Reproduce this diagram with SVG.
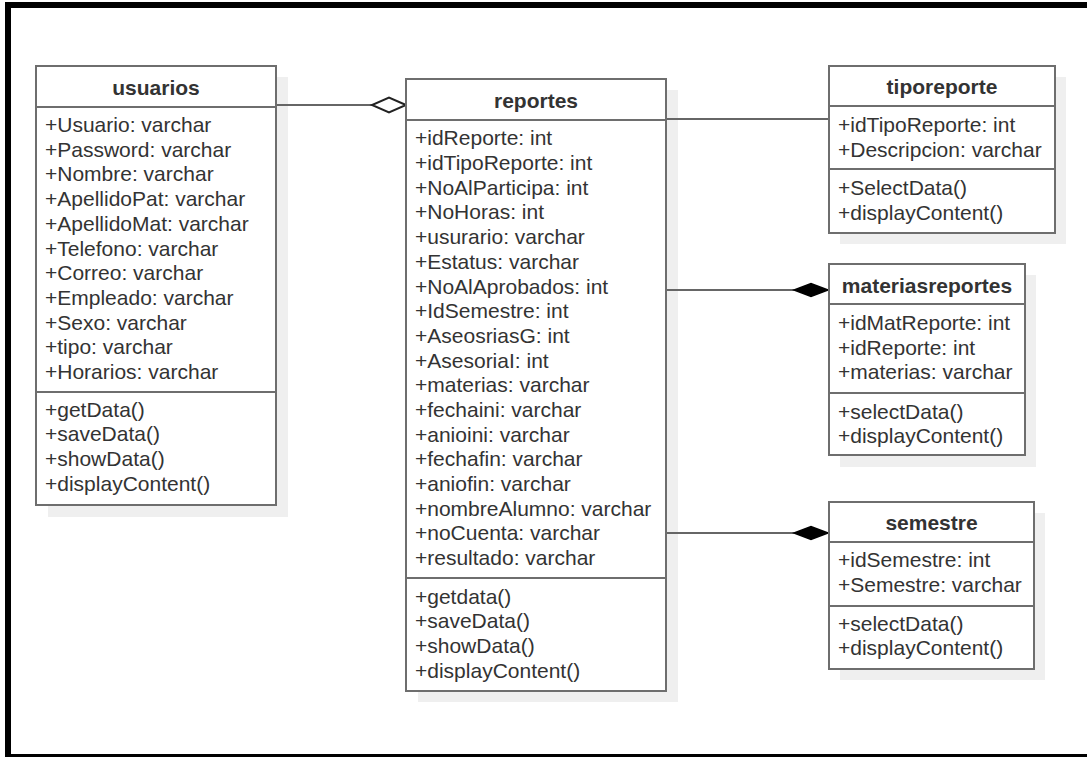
<svg xmlns="http://www.w3.org/2000/svg" width="1087" height="757" viewBox="0 0 1087 757">
  <defs>
    <style>
      .shadow { fill: #efefef; stroke: none; }
      .box { fill: #ffffff; stroke: #6e6e6e; stroke-width: 2; }
      .sep { stroke: #6e6e6e; stroke-width: 2; }
      .title { font-family: "Liberation Sans", Arial, sans-serif; font-size: 21px; font-weight: bold; fill: #333333; text-anchor: middle; }
      .item { font-family: "Liberation Sans", Arial, sans-serif; font-size: 21px; fill: #333333; }
      .edge { fill: none; stroke: #666666; stroke-width: 2; }
      .hollow { fill: #ffffff; stroke: #222222; stroke-width: 2; }
      .solid { fill: #000000; stroke: #000000; stroke-width: 1.5; }
    </style>
  </defs>

  <rect x="0" y="0" width="1087" height="757" fill="#ffffff"/>

  <!-- outer frame -->
  <g id="frame" fill="#000000">
    <rect x="5" y="2" width="1082" height="6"/>
    <rect x="5" y="2" width="6" height="755"/>
    <rect x="5" y="754" width="1082" height="3"/>
  </g>

  <!-- shadows -->
  <g id="shadows">
    <rect class="shadow" x="48" y="77" width="240" height="440"/>
    <rect class="shadow" x="418" y="90" width="260" height="612"/>
    <rect class="shadow" x="840" y="77" width="226" height="167"/>
    <rect class="shadow" x="840" y="275" width="196" height="192"/>
    <rect class="shadow" x="840" y="513" width="205" height="167"/>
  </g>

  <!-- connectors -->
  <g id="connectors">
    <line class="edge" x1="276" y1="105" x2="372" y2="105"/>
    <polygon class="hollow" points="406,105 389,97.5 372,105 389,112.5"/>
    <line class="edge" x1="666" y1="119" x2="829" y2="119"/>
    <line class="edge" x1="666" y1="290" x2="794" y2="290"/>
    <polygon class="solid" points="828,290 811,283.5 794,290 811,296.5"/>
    <line class="edge" x1="666" y1="533" x2="794" y2="533"/>
    <polygon class="solid" points="828,533 811,526.5 794,533 811,539.5"/>
  </g>

  <!-- usuarios -->
  <g id="usuarios">
    <rect class="box" x="36" y="66" width="240" height="439"/>
    <line class="sep" x1="36" y1="107" x2="276" y2="107"/>
    <line class="sep" x1="36" y1="392" x2="276" y2="392"/>
    <text class="title" x="156" y="94.5">usuarios</text>
    <text class="item" x="45">
      <tspan x="45" y="132">+Usuario: varchar</tspan>
      <tspan x="45" y="156.7">+Password: varchar</tspan>
      <tspan x="45" y="181.4">+Nombre: varchar</tspan>
      <tspan x="45" y="206.1">+ApellidoPat: varchar</tspan>
      <tspan x="45" y="230.8">+ApellidoMat: varchar</tspan>
      <tspan x="45" y="255.5">+Telefono: varchar</tspan>
      <tspan x="45" y="280.2">+Correo: varchar</tspan>
      <tspan x="45" y="304.9">+Empleado: varchar</tspan>
      <tspan x="45" y="329.6">+Sexo: varchar</tspan>
      <tspan x="45" y="354.3">+tipo: varchar</tspan>
      <tspan x="45" y="379">+Horarios: varchar</tspan>
    </text>
    <text class="item">
      <tspan x="45" y="416.5">+getData()</tspan>
      <tspan x="45" y="441.3">+saveData()</tspan>
      <tspan x="45" y="466.1">+showData()</tspan>
      <tspan x="45" y="490.9">+displayContent()</tspan>
    </text>
  </g>

  <!-- reportes -->
  <g id="reportes">
    <rect class="box" x="406" y="79" width="260" height="612"/>
    <line class="sep" x1="406" y1="120" x2="666" y2="120"/>
    <line class="sep" x1="406" y1="578" x2="666" y2="578"/>
    <text class="title" x="536" y="107.5">reportes</text>
    <text class="item">
      <tspan x="415" y="145.3">+idReporte: int</tspan>
      <tspan x="415" y="170">+idTipoReporte: int</tspan>
      <tspan x="415" y="194.7">+NoAlParticipa: int</tspan>
      <tspan x="415" y="219.4">+NoHoras: int</tspan>
      <tspan x="415" y="244.1">+usurario: varchar</tspan>
      <tspan x="415" y="268.8">+Estatus: varchar</tspan>
      <tspan x="415" y="293.5">+NoAlAprobados: int</tspan>
      <tspan x="415" y="318.1">+IdSemestre: int</tspan>
      <tspan x="415" y="342.8">+AseosriasG: int</tspan>
      <tspan x="415" y="367.5">+AsesoriaI: int</tspan>
      <tspan x="415" y="392.2">+materias: varchar</tspan>
      <tspan x="415" y="416.9">+fechaini: varchar</tspan>
      <tspan x="415" y="441.6">+anioini: varchar</tspan>
      <tspan x="415" y="466.3">+fechafin: varchar</tspan>
      <tspan x="415" y="491">+aniofin: varchar</tspan>
      <tspan x="415" y="515.7">+nombreAlumno: varchar</tspan>
      <tspan x="415" y="540.4">+noCuenta: varchar</tspan>
      <tspan x="415" y="565">+resultado: varchar</tspan>
    </text>
    <text class="item">
      <tspan x="415" y="603.7">+getdata()</tspan>
      <tspan x="415" y="628.3">+saveData()</tspan>
      <tspan x="415" y="652.9">+showData()</tspan>
      <tspan x="415" y="677.5">+displayContent()</tspan>
    </text>
  </g>

  <!-- tiporeporte -->
  <g id="tiporeporte">
    <rect class="box" x="829" y="66" width="226" height="167"/>
    <line class="sep" x1="829" y1="106" x2="1055" y2="106"/>
    <line class="sep" x1="829" y1="169" x2="1055" y2="169"/>
    <text class="title" x="942" y="94">tiporeporte</text>
    <text class="item">
      <tspan x="838" y="132">+idTipoReporte: int</tspan>
      <tspan x="838" y="156.5">+Descripcion: varchar</tspan>
    </text>
    <text class="item">
      <tspan x="838" y="195.3">+SelectData()</tspan>
      <tspan x="838" y="219.7">+displayContent()</tspan>
    </text>
  </g>

  <!-- materiasreportes -->
  <g id="materiasreportes">
    <rect class="box" x="829" y="264" width="196" height="191"/>
    <line class="sep" x1="829" y1="304" x2="1025" y2="304"/>
    <line class="sep" x1="829" y1="393" x2="1025" y2="393"/>
    <text class="title" x="927" y="292.5">materiasreportes</text>
    <text class="item">
      <tspan x="838" y="330.3">+idMatReporte: int</tspan>
      <tspan x="838" y="355">+idReporte: int</tspan>
      <tspan x="838" y="379">+materias: varchar</tspan>
    </text>
    <text class="item">
      <tspan x="838" y="418.7">+selectData()</tspan>
      <tspan x="838" y="442.5">+displayContent()</tspan>
    </text>
  </g>

  <!-- semestre -->
  <g id="semestre">
    <rect class="box" x="829" y="502" width="205" height="167"/>
    <line class="sep" x1="829" y1="542" x2="1034" y2="542"/>
    <line class="sep" x1="829" y1="606" x2="1034" y2="606"/>
    <text class="title" x="931.5" y="529.5">semestre</text>
    <text class="item">
      <tspan x="838" y="567">+idSemestre: int</tspan>
      <tspan x="838" y="592">+Semestre: varchar</tspan>
    </text>
    <text class="item">
      <tspan x="838" y="631">+selectData()</tspan>
      <tspan x="838" y="655.3">+displayContent()</tspan>
    </text>
  </g>
</svg>
